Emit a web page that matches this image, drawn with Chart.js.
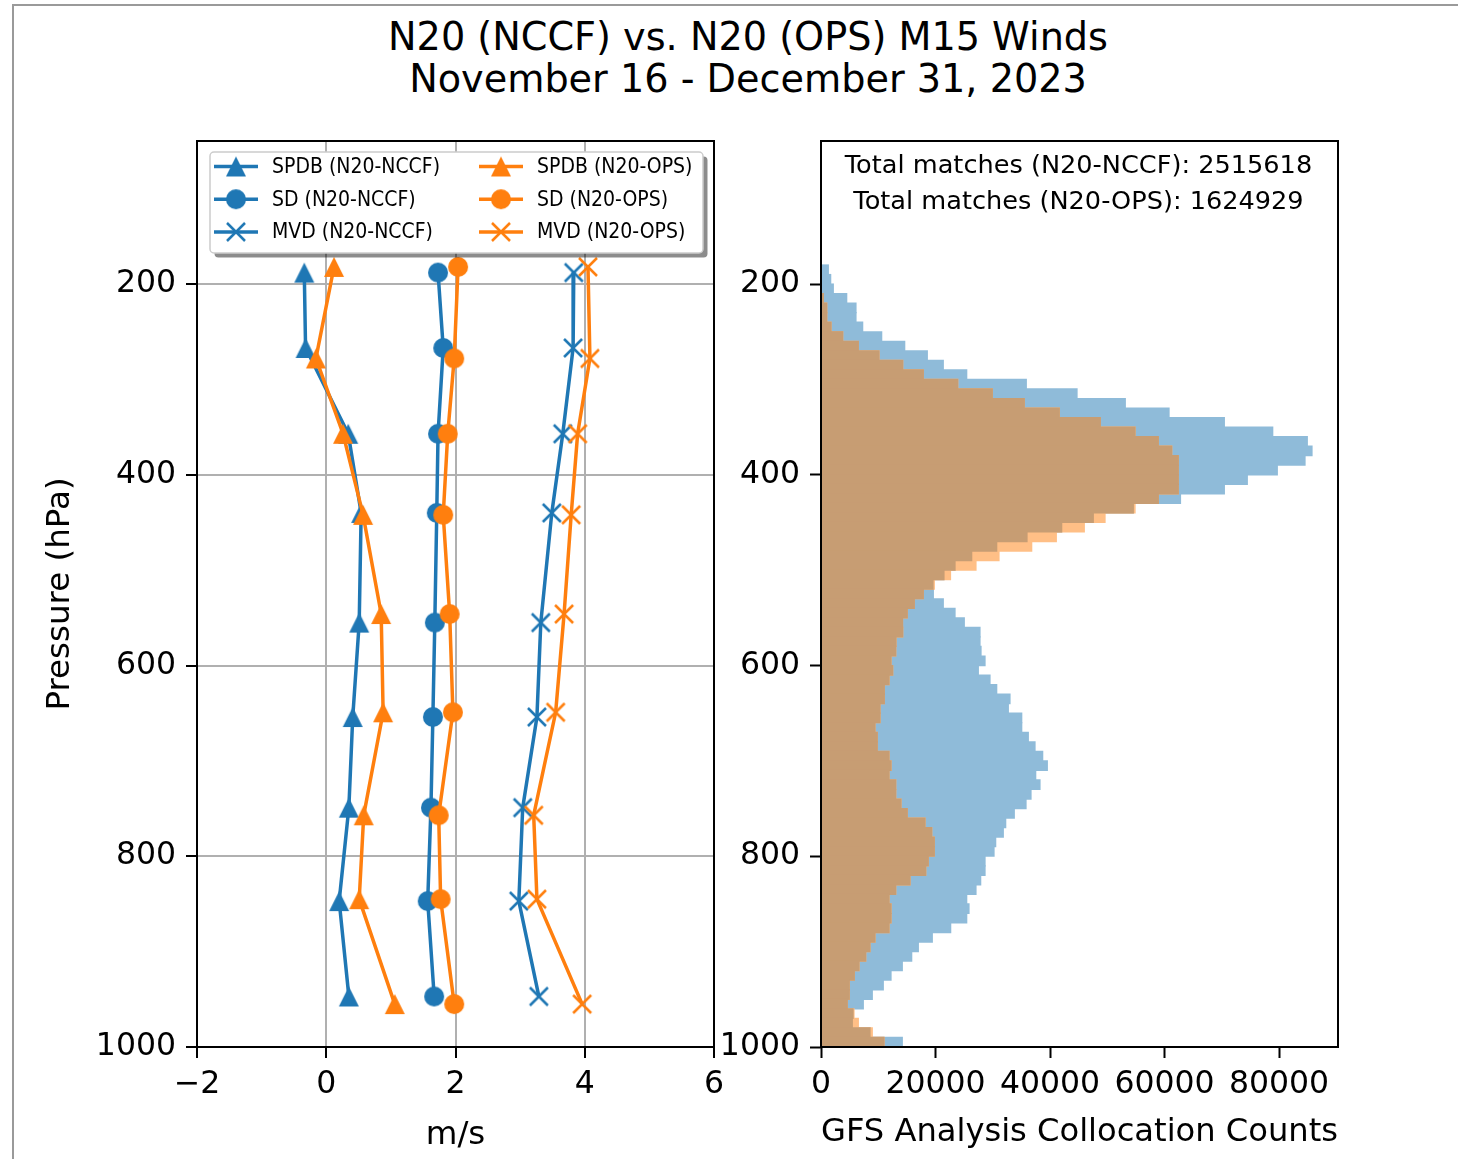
<!DOCTYPE html>
<html>
<head>
<meta charset="utf-8">
<title>N20 (NCCF) vs. N20 (OPS) M15 Winds</title>
<script src="https://cdn.jsdelivr.net/npm/chart.js@4.4.1/dist/chart.umd.min.js"></script>
<style>
  html, body { margin: 0; padding: 0; background: #fff; }
  body { width: 1458px; height: 1159px; position: relative; overflow: hidden; font-family: "DejaVu Sans", sans-serif; }
  #frame { position: absolute; left: 12px; top: 4px; width: 1460px; height: 1170px; border-top: 2px solid #9a9a9a; border-left: 2px solid #9a9a9a; }
  #title { position: absolute; left: 0; top: 16px; width: 1496px; text-align: center; font-size: 38.2px; line-height: 42px; color: #000; }
  #profileChart { position: absolute; left: 0; top: 0; }
  #countChart { position: absolute; left: 700px; top: 0; }
</style>
</head>
<body>
<div id="frame"></div>
<div id="title">N20 (NCCF) vs. N20 (OPS) M15 Winds<br>November 16 - December 31, 2023</div>
<canvas id="profileChart" width="760" height="1159"></canvas>
<canvas id="countChart" width="758" height="1159"></canvas>
<script>
// Pressure levels (hPa) of the profile points
const levelsNCCF = [188, 267, 357, 440, 555, 654, 749, 847, 947];
const levelsOPS = [182, 278, 357, 442, 546, 649, 757, 845, 955];

// Speed bias, standard deviation and mean vector difference (m/s)
const spdbNCCF = [-0.34, -0.32, 0.34, 0.54, 0.51, 0.41, 0.35, 0.20, 0.35];
const sdNCCF = [1.73, 1.81, 1.73, 1.71, 1.68, 1.65, 1.62, 1.57, 1.67];
const mvdNCCF = [3.83, 3.82, 3.66, 3.49, 3.32, 3.26, 3.04, 2.98, 3.29];
const spdbOPS = [0.12, -0.16, 0.26, 0.57, 0.85, 0.88, 0.58, 0.51, 1.06];
const sdOPS = [2.04, 1.98, 1.88, 1.81, 1.91, 1.96, 1.74, 1.77, 1.98];
const mvdOPS = [4.05, 4.08, 3.89, 3.79, 3.68, 3.55, 3.21, 3.26, 3.96];

// Histogram bins (10 hPa wide, centres) and collocation counts
const binCenters = [185, 195, 205, 215, 225, 235, 245, 255, 265, 275, 285, 295,
  305, 315, 325, 335, 345, 355, 365, 375, 385, 395,
  405, 415, 425, 435, 445, 455, 465, 475, 485, 495,
  505, 515, 525, 535, 545, 555, 565, 575, 585, 595,
  605, 615, 625, 635, 645, 655, 665, 675, 685, 695,
  705, 715, 725, 735, 745, 755, 765, 775, 785, 795,
  805, 815, 825, 835, 845, 855, 865, 875, 885, 895,
  905, 915, 925, 935, 945, 955, 965, 975, 985, 995];
const countsNCCF = [1280, 1690, 2150, 4490, 6110, 6110, 7280, 10600, 14620, 18570, 21360, 25450,
  35860, 44720, 53150, 60790, 70450, 78900, 84940, 85760, 84540, 79700,
  74460, 70450, 62790, 54550, 47560, 42040, 35980, 30690, 26320, 23410,
  21480, 19560, 19620, 21360, 23410, 25030, 27770, 27770, 27950, 28650,
  27480, 29520, 30690, 33010, 32720, 35060, 35060, 36210, 37380, 38720,
  39530, 37500, 38250, 36680, 35810, 33760, 32260, 31840, 30510, 30220,
  28650, 28650, 27890, 27070, 25450, 25850, 25450, 22650, 19440, 17000,
  15840, 14200, 12230, 10880, 8960, 7390, 5590, 5470, 8560, 14200];
const countsOPS = [0, 0, 0, 400, 1000, 1000, 1750, 3790, 6520, 10130, 14270, 17870,
  23880, 29920, 35510, 41620, 48790, 54850, 58920, 61260, 62410, 62410,
  62410, 62410, 58920, 54850, 49610, 45990, 41100, 36800, 31090, 27070,
  22620, 19790, 17870, 16300, 15070, 14240, 14270, 13100, 13050, 12230,
  12520, 11880, 11060, 11060, 10310, 10310, 9430, 9830, 9830, 11880,
  12230, 11880, 13050, 13050, 13970, 15070, 18170, 19340, 19790, 19790,
  18740, 18290, 15550, 13050, 11880, 12230, 12230, 11880, 9430, 8560,
  7810, 6640, 5820, 4940, 4940, 4590, 5760, 6520, 8960, 11000];
const totalMatches = [2515618, 1624929];

// Tick labels
const pressureTicks = [200, 400, 600, 800, 1000];
const speedTicks = [-2, 0, 2, 4, 6];
const countTicks = [0, 20000, 40000, 60000, 80000];

const BLUE = '#1f77b4';
const ORANGE = '#ff7f0e';
const FONT = 'DejaVu Sans';

Chart.defaults.font.family = FONT;
Chart.defaults.color = '#000';

// matplotlib style marker images
function makeMarker(shape, color) {
  const c = document.createElement('canvas');
  c.width = 22; c.height = 22;
  const g = c.getContext('2d');
  g.fillStyle = color;
  g.strokeStyle = color;
  if (shape === 'triangle') {
    g.beginPath(); g.moveTo(11, 1); g.lineTo(21, 21); g.lineTo(1, 21); g.closePath(); g.fill();
  } else if (shape === 'circle') {
    g.beginPath(); g.arc(11, 11, 10, 0, Math.PI * 2); g.fill();
  } else {
    g.lineWidth = 2.5;
    g.beginPath(); g.moveTo(2, 2); g.lineTo(20, 20); g.moveTo(20, 2); g.lineTo(2, 20); g.stroke();
  }
  return c;
}

function toPoints(values, levels) {
  return values.map((v, i) => ({ x: v, y: levels[i] }));
}

function lineSet(label, values, levels, color, shape, order) {
  return {
    label: label,
    data: toPoints(values, levels),
    borderColor: color,
    backgroundColor: color,
    borderWidth: 3.5,
    pointStyle: makeMarker(shape, color),
    pointRadius: 10,
    pointHoverRadius: 10,
    order: order
  };
}

const tickFont = { family: FONT, size: 31.5 };
const labelFont = { family: FONT, size: 32.5 };
const plainNumber = v => (v < 0 ? '\u2212' + Math.abs(v) : String(v));

// frame + boxed two-column legend inside the plot
const profileDecor = {
  id: 'profileDecor',
  afterDatasetsDraw(chart) {
    const ctx = chart.ctx;
    const a = chart.chartArea;
    ctx.save();
    ctx.strokeStyle = '#000';
    ctx.lineWidth = 2;
    ctx.strokeRect(a.left, a.top, a.right - a.left, a.bottom - a.top);

    const bx = a.left + 13, by = a.top + 11, bw = 493, bh = 101;
    ctx.fillStyle = 'rgba(0,0,0,0.45)';
    ctx.beginPath(); ctx.roundRect(bx + 4.5, by + 4.5, bw, bh, 4); ctx.fill();
    ctx.fillStyle = '#fff';
    ctx.beginPath(); ctx.roundRect(bx, by, bw, bh, 4); ctx.fill();
    ctx.strokeStyle = '#cccccc';
    ctx.lineWidth = 1.5;
    ctx.stroke();

    ctx.font = '21px "DejaVu Sans Condensed", "DejaVu Sans"';
    ctx.textBaseline = 'middle';
    ctx.textAlign = 'left';
    chart.data.datasets.forEach((ds, i) => {
      const col = Math.floor(i / 3), row = i % 3;
      const x0 = bx + (col === 0 ? 4 : 269);
      const cy = by + 14.5 + row * 32.7;
      ctx.strokeStyle = ds.borderColor;
      ctx.lineWidth = 3.5;
      ctx.beginPath(); ctx.moveTo(x0, cy); ctx.lineTo(x0 + 44, cy); ctx.stroke();
      ctx.drawImage(ds.pointStyle, x0 + 22 - 11, cy - 11);
      ctx.fillStyle = '#000';
      ctx.fillText(ds.label, x0 + 58, cy + 1);
    });
    ctx.restore();
  }
};

const profileChart = new Chart(document.getElementById('profileChart').getContext('2d'), {
  type: 'line',
  data: {
    datasets: [
      lineSet('SPDB (N20-NCCF)', spdbNCCF, levelsNCCF, BLUE, 'triangle', 1),
      lineSet('SD (N20-NCCF)', sdNCCF, levelsNCCF, BLUE, 'circle', 1),
      lineSet('MVD (N20-NCCF)', mvdNCCF, levelsNCCF, BLUE, 'x', 1),
      lineSet('SPDB (N20-OPS)', spdbOPS, levelsOPS, ORANGE, 'triangle', 0),
      lineSet('SD (N20-OPS)', sdOPS, levelsOPS, ORANGE, 'circle', 0),
      lineSet('MVD (N20-OPS)', mvdOPS, levelsOPS, ORANGE, 'x', 0)
    ]
  },
  options: {
    responsive: false,
    animation: false,
    indexAxis: 'y',
    layout: { padding: { left: 0, top: 141, right: 46, bottom: 0 } },
    plugins: { legend: { display: false }, tooltip: { enabled: false } },
    scales: {
      x: {
        type: 'linear',
        min: -2,
        max: 6,
        afterBuildTicks: s => { s.ticks = speedTicks.map(v => ({ value: v })); },
        afterFit: s => { s.height = 112; },
        ticks: { font: tickFont, padding: 8, maxRotation: 0, callback: plainNumber },
        grid: { color: '#b0b0b0', lineWidth: 2, tickLength: 11, tickColor: '#000', tickWidth: 2 },
        border: { display: false },
        title: { display: true, text: 'm/s', font: labelFont, padding: { top: 0, bottom: 4 } }
      },
      y: {
        type: 'linear',
        reverse: true,
        min: 50,
        max: 1000,
        afterBuildTicks: s => { s.ticks = pressureTicks.map(v => ({ value: v })); },
        afterFit: s => { s.width = 197; },
        ticks: { font: tickFont, padding: 10, callback: plainNumber },
        grid: { color: '#b0b0b0', lineWidth: 2, tickLength: 11, tickColor: '#000', tickWidth: 2 },
        border: { display: false },
        title: { display: true, text: 'Pressure (hPa)', font: labelFont, padding: { top: 41, bottom: 0 } }
      }
    }
  },
  plugins: [profileDecor]
});

// histogram: overlap of the two alpha-0.5 layers is drawn as its own colour
const overlapCounts = countsNCCF.map((v, i) => Math.min(v, countsOPS[i]));

function barSet(values, color, order) {
  return {
    data: values.map((v, i) => ({ x: v, y: binCenters[i] })),
    backgroundColor: color,
    borderWidth: 0,
    barPercentage: 1,
    categoryPercentage: 1,
    inflateAmount: 0.6,
    grouped: false,
    order: order
  };
}

const countDecor = {
  id: 'countDecor',
  afterDatasetsDraw(chart) {
    const ctx = chart.ctx;
    const a = chart.chartArea;
    ctx.save();
    ctx.strokeStyle = '#000';
    ctx.lineWidth = 2;
    ctx.strokeRect(a.left, a.top, a.right - a.left, a.bottom - a.top);
    ctx.font = '25.6px "DejaVu Sans"';
    ctx.fillStyle = '#000';
    ctx.textAlign = 'center';
    ctx.textBaseline = 'middle';
    const cx = (a.left + a.right) / 2 - 1;
    ctx.fillText('Total matches (N20-NCCF): ' + totalMatches[0], cx, a.top + 25);
    ctx.fillText('Total matches (N20-OPS): ' + totalMatches[1], cx, a.top + 61);
    ctx.restore();
  }
};

const countChart = new Chart(document.getElementById('countChart').getContext('2d'), {
  type: 'bar',
  data: {
    datasets: [
      barSet(countsNCCF, '#8fbbd9', 2),
      barSet(countsOPS, '#ffbf86', 1),
      barSet(overlapCounts, '#c79d73', 0)
    ]
  },
  options: {
    responsive: false,
    animation: false,
    indexAxis: 'y',
    layout: { padding: { left: 0, top: 141, right: 120, bottom: 0 } },
    plugins: { legend: { display: false }, tooltip: { enabled: false } },
    scales: {
      x: {
        type: 'linear',
        min: 0,
        max: 90300,
        afterBuildTicks: s => { s.ticks = countTicks.map(v => ({ value: v })); },
        afterFit: s => { s.height = 112; },
        ticks: { font: tickFont, padding: 8, maxRotation: 0, callback: plainNumber },
        grid: { drawOnChartArea: false, tickLength: 11, tickColor: '#000', tickWidth: 2 },
        border: { display: false },
        title: { display: true, text: 'GFS Analysis Collocation Counts', font: labelFont, padding: { top: 0, bottom: 7 } }
      },
      y: {
        type: 'linear',
        reverse: true,
        min: 50,
        max: 1000,
        offset: false,
        afterBuildTicks: s => { s.ticks = pressureTicks.map(v => ({ value: v })); },
        afterFit: s => { s.width = 121; },
        ticks: { font: tickFont, padding: 10, callback: plainNumber },
        grid: { offset: false, drawOnChartArea: false, tickLength: 11, tickColor: '#000', tickWidth: 2 },
        border: { display: false }
      }
    }
  },
  plugins: [countDecor]
});
</script>
</body>
</html>
